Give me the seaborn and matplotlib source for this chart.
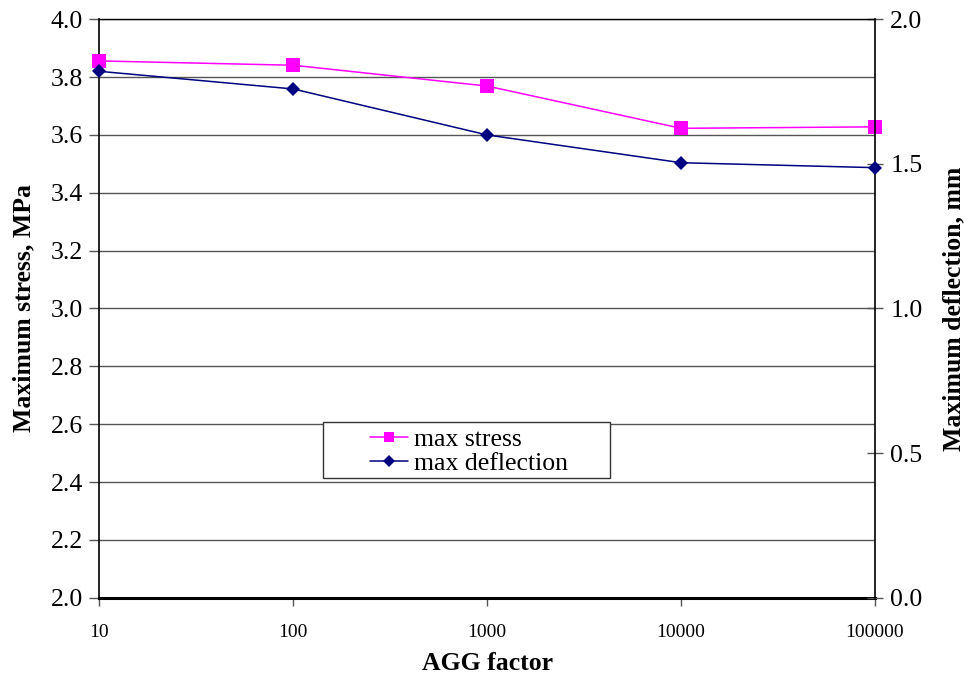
import matplotlib
matplotlib.use("Agg")
import matplotlib.pyplot as plt
import seaborn as sns
import pandas as pd
from matplotlib.patches import Rectangle
from matplotlib.ticker import FixedLocator, FixedFormatter, NullLocator

agg_factor = [10, 100, 1000, 10000, 100000]
max_stress = [3.856, 3.841, 3.769, 3.623, 3.628]
max_deflection = [1.820, 1.759, 1.600, 1.504, 1.487]
x_tick_labels = ["10", "100", "1000", "10000", "100000"]
left_ticks = [2.0, 2.2, 2.4, 2.6, 2.8, 3.0, 3.2, 3.4, 3.6, 3.8, 4.0]
right_ticks = [0.0, 0.5, 1.0, 1.5, 2.0]

sns.set_theme(style="white")
plt.rcParams['font.family'] = ['Liberation Serif', 'DejaVu Serif']
plt.rcParams['text.color'] = 'black'
plt.rcParams['axes.labelcolor'] = 'black'

df = pd.DataFrame({"agg": agg_factor, "stress": max_stress, "defl": max_deflection})

fig = plt.figure(figsize=(9.65, 6.81), dpi=100)
ax = fig.add_axes([0.1031, 0.1223, 0.8036, 0.8494])
ax2 = ax.twinx()

sns.lineplot(data=df, x="agg", y="stress", ax=ax, color="#FF00FF", marker="s",
             markersize=9.5, markeredgewidth=0, linewidth=1.1, label="max stress",
             legend=False, clip_on=False, zorder=5)
sns.lineplot(data=df, x="agg", y="defl", ax=ax2, color="#000080", marker="D",
             markersize=7.5, markeredgewidth=0, linewidth=1.1, label="max deflection",
             legend=False, clip_on=False, zorder=5)

ax.set_xscale("log")
ax.set_xlim(10, 100000)
ax.xaxis.set_major_locator(FixedLocator(agg_factor))
ax.xaxis.set_major_formatter(FixedFormatter(x_tick_labels))
ax.xaxis.set_minor_locator(NullLocator())
ax.set_ylim(2.0, 4.0)
ax.set_yticks(left_ticks)
ax.set_yticklabels([f"{v:.1f}" for v in left_ticks])
ax2.set_ylim(0.0, 2.0)
ax2.set_yticks(right_ticks)
ax2.set_yticklabels([f"{v:.1f}" for v in right_ticks])

ax.grid(axis="y", color="#555555", linewidth=1.0)
ax.grid(axis="x", visible=False)
ax2.grid(False)
ax.set_axisbelow(True)

for a in (ax, ax2):
    for s in a.spines.values():
        s.set_visible(False)
ax.spines["left"].set_visible(True)
ax.spines["left"].set_color("black")
ax.spines["left"].set_linewidth(1.2)
ax.spines["bottom"].set_visible(True)
ax.spines["bottom"].set_color("black")
ax.spines["bottom"].set_linewidth(2.2)
ax2.spines["right"].set_visible(True)
ax2.spines["right"].set_color("black")
ax2.spines["right"].set_linewidth(1.2)
ax2.spines["top"].set_visible(True)
ax2.spines["top"].set_color("black")
ax2.spines["top"].set_linewidth(1.0)

ax.tick_params(axis="y", which="major", direction="out", length=7, width=1, color="#555555",
               left=True, labelsize=18.5, pad=5, labelcolor="black")
ax.tick_params(axis="x", which="major", direction="out", length=6, width=1, color="#555555",
               bottom=True, labelsize=14, pad=13, labelcolor="black")
ax2.tick_params(axis="y", which="major", direction="inout", length=12, width=1, color="#555555",
                right=True, labelsize=18.5, pad=5, labelcolor="black")

ax.set_xlabel("AGG factor", fontsize=18.5, fontweight="bold", labelpad=8, color="black")
ax.set_ylabel("Maximum stress, MPa", fontsize=18.5, fontweight="bold", labelpad=11, color="black")
ax2.set_ylabel("Maximum deflection, mm", fontsize=18.5, fontweight="bold", labelpad=14, color="black")

# legend box (white fill, thin dark frame), spanning the reference's frame
box = Rectangle((0.2882, 0.2069), 0.3701, 0.0968, transform=ax2.transAxes,
                facecolor="white", edgecolor="#333333", linewidth=1.0, zorder=8,
                clip_on=False)
ax2.add_patch(box)

h1, l1 = ax.get_legend_handles_labels()
h2, l2 = ax2.get_legend_handles_labels()
leg = ax2.legend(h1 + h2, l1 + l2, loc="center left", bbox_to_anchor=(0.3488, 0.2527),
                 frameon=False, fontsize=18.5, handlelength=1.48,
                 borderpad=0, labelspacing=0.06, handletextpad=0.24, borderaxespad=0,
                 markerscale=0.8, labelcolor="black")
leg.set_zorder(10)

fig.savefig("out.png", dpi=100)
